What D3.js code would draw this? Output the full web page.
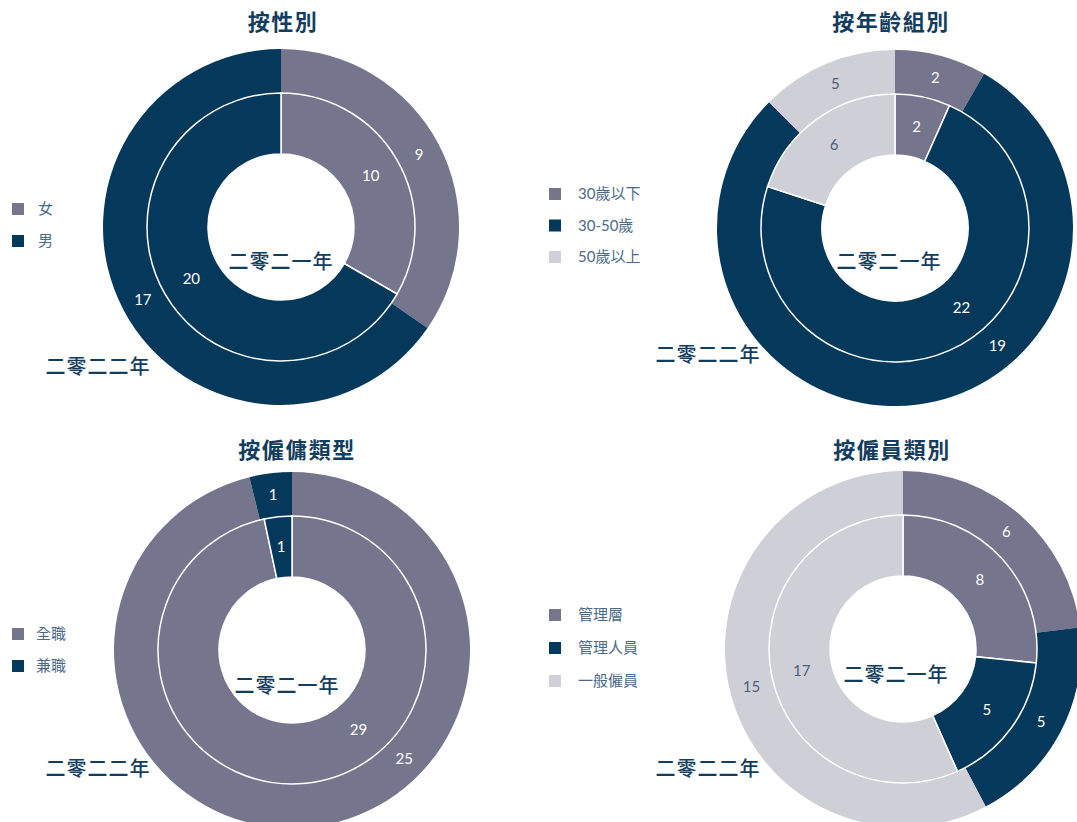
<!DOCTYPE html>
<html>
<head>
<meta charset="utf-8">
<script src="https://cdn.jsdelivr.net/npm/d3@7"></script>
<style>
  body { margin: 0; background: #fff; }
  svg { display: block; }
</style>
</head>
<body>
<svg id="chart" width="1077" height="822"></svg>
<script>
// данные
const titles = ['按性別', '按年齡組別', '按僱傭類型', '按僱員類別']
const yearInner = '二零二一年'
const yearOuter = '二零二二年'

const genderCats = ['女', '男']
const gender2021 = [10, 20]
const gender2022 = [9, 17]

const ageCats = ['30歲以下', '30-50歲', '50歲以上']
const age2021 = [2, 22, 6]
// в оригинале сектор «50歲以上» 2022 нарисован как 3, а подписан 5
const age2022 = [2, 19, 3]
const age2022Labels = ['2', '19', '5']

const typeCats = ['全職', '兼職']
const type2021 = [29, 1]
const type2022 = [25, 1]

const gradeCats = ['管理層', '管理人員', '一般僱員']
const grade2021 = [8, 5, 17]
const grade2022 = [6, 5, 15]

const colors = ['#75758d', '#05395b', '#cfcfd8']
const labelColors = ['#ffffff', '#ffffff', '#4d5d7a']
const font = "Lato, 'Noto Sans CJK TC', sans-serif"

const svg = d3.select('#chart')

// макет каждой диаграммы (la / lo - ручной угол подписи, градусы)
const panels = [
  { title: titles[0], cats: genderCats, inner: gender2021, outer: gender2022,
    cx: 281, cy: 227, tx: 283, ty: 30, lx: 12, ly: 203, lgap: 32, ltx: 38,
    xi: 0, yi: 35, ox: 98, oy: 374, la: {}, lo: {} },
  { title: titles[1], cats: ageCats, inner: age2021, outer: age2022, outerLabels: age2022Labels,
    cx: 895, cy: 228, tx: 891, ty: 30, lx: 549, ly: 188, lgap: 31.5, ltx: 578,
    xi: -6, yi: 34, ox: 708, oy: 362, la: { 1: 140 }, lo: { 1: 139 } },
  { title: titles[2], cats: typeCats, inner: type2021, outer: type2022,
    cx: 292, cy: 650, tx: 297, ty: 458, lx: 12, ly: 628, lgap: 32, ltx: 36,
    xi: -5, yi: 36, ox: 98, oy: 776, la: { 0: 140 }, lo: { 0: 134 } },
  { title: titles[3], cats: gradeCats, inner: grade2021, outer: grade2022,
    cx: 903, cy: 649, tx: 892, ty: 458, lx: 549, ly: 609, lgap: 33, ltx: 578,
    xi: -7, yi: 26, ox: 708, oy: 776, la: {}, lo: {} },
]

const rHole = 73
const rMid = 134
const rOuter = 178

const pie = d3.pie().sort(null).value(d => d)
const arcInner = d3.arc().innerRadius(rHole).outerRadius(rMid)
const arcOuter = d3.arc().innerRadius(rMid).outerRadius(rOuter)

// позиция подписи: центроид или заданный угол на средней линии кольца
const labelPos = (arc, r0, r1, over) => (d, i) => {
  if (over[i] === undefined) return arc.centroid(d)
  const a = over[i] * Math.PI / 180
  const r = (r0 + r1) / 2
  return [Math.sin(a) * r, -Math.cos(a) * r]
}

panels.forEach(p => {
  const g = svg.append('g').attr('transform', `translate(${p.cx},${p.cy})`)

  // внешнее кольцо (2022)
  const outerArcs = pie(p.outer)
  g.selectAll('path.outer')
    .data(outerArcs)
    .enter()
    .append('path')
    .attr('class', 'outer')
    .attr('d', arcOuter)
    .attr('fill', (d, i) => colors[i])

  // внутреннее кольцо (2021)
  const innerArcs = pie(p.inner)
  g.selectAll('path.inner')
    .data(innerArcs)
    .enter()
    .append('path')
    .attr('class', 'inner')
    .attr('d', arcInner)
    .attr('fill', (d, i) => colors[i])
    .attr('stroke', '#fff')
    .attr('stroke-width', 1.5)

  // подписи значений
  const posO = labelPos(arcOuter, rMid, rOuter, p.lo)
  g.selectAll('text.vo')
    .data(outerArcs)
    .enter()
    .append('text')
    .attr('class', 'vo')
    .attr('transform', (d, i) => `translate(${posO(d, i)})`)
    .attr('text-anchor', 'middle')
    .attr('dy', '0.35em')
    .attr('font-family', font)
    .attr('font-size', '15px')
    .attr('fill', (d, i) => labelColors[i])
    .text((d, i) => p.outerLabels ? p.outerLabels[i] : d.data)

  const posI = labelPos(arcInner, rHole, rMid, p.la)
  g.selectAll('text.vi')
    .data(innerArcs)
    .enter()
    .append('text')
    .attr('class', 'vi')
    .attr('transform', (d, i) => `translate(${posI(d, i)})`)
    .attr('text-anchor', 'middle')
    .attr('dy', '0.35em')
    .attr('font-family', font)
    .attr('font-size', '15px')
    .attr('fill', (d, i) => labelColors[i])
    .text(d => d.data)

  // подписи годов
  g.append('text')
    .attr('x', p.xi)
    .attr('y', p.yi)
    .attr('dy', '0.35em')
    .attr('text-anchor', 'middle')
    .attr('font-family', font)
    .attr('font-size', '20px')
    .attr('font-weight', '500')
    .attr('letter-spacing', '1px')
    .attr('fill', '#123d5e')
    .text(yearInner)

  svg.append('text')
    .attr('x', p.ox)
    .attr('y', p.oy)
    .attr('text-anchor', 'middle')
    .attr('font-family', font)
    .attr('font-size', '20px')
    .attr('font-weight', '500')
    .attr('letter-spacing', '1px')
    .attr('fill', '#123d5e')
    .text(yearOuter)

  // заголовок
  svg.append('text')
    .attr('x', p.tx)
    .attr('y', p.ty)
    .attr('text-anchor', 'middle')
    .attr('font-family', font)
    .attr('font-size', '22px')
    .attr('font-weight', 'bold')
    .attr('letter-spacing', '1.5px')
    .attr('fill', '#123d5e')
    .text(p.title)

  // легенда
  const legend = svg.append('g')
  const items = legend.selectAll('g')
    .data(p.cats)
    .enter()
    .append('g')
    .attr('transform', (d, i) => `translate(${p.lx},${p.ly + i * p.lgap})`)

  items.append('rect')
    .attr('width', 12)
    .attr('height', 12)
    .attr('fill', (d, i) => colors[i])

  items.append('text')
    .attr('x', p.ltx - p.lx)
    .attr('y', 6)
    .attr('dy', '0.35em')
    .attr('font-family', font)
    .attr('font-size', '15px')
    .attr('fill', '#4b6a88')
    .text(d => d)
})
</script>
</body>
</html>
